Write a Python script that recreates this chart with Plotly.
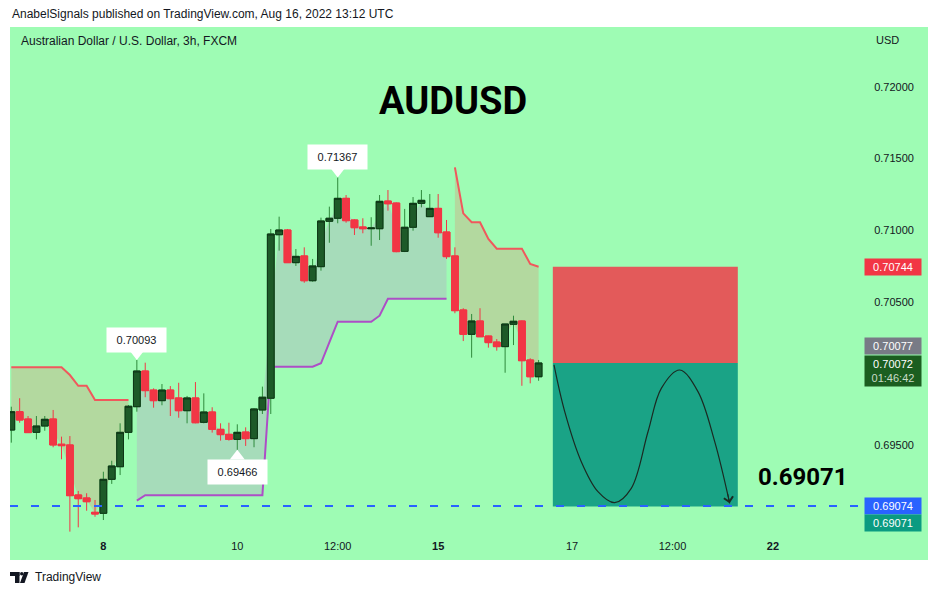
import plotly.graph_objects as go

# ---------------- data ----------------
candle_idx = list(range(64))
opens = [0.69604, 0.69732, 0.69681, 0.69588, 0.69632, 0.69681, 0.69505, 0.69500, 0.69151, 0.69130,
         0.69030, 0.69023, 0.69260, 0.69348, 0.69588, 0.69767, 0.70016, 0.69883, 0.69809, 0.69883,
         0.69828, 0.69739, 0.69828, 0.69658, 0.69730, 0.69609, 0.69574, 0.69539, 0.69590, 0.69544,
         0.69744, 0.69826, 0.70967, 0.71000, 0.70772, 0.70819, 0.70646, 0.70744, 0.71061, 0.71082,
         0.71221, 0.71070, 0.71021, 0.71009, 0.71009, 0.71202, 0.71188, 0.70851, 0.71019, 0.71186,
         0.71093, 0.71151, 0.70986, 0.70819, 0.70442, 0.70272, 0.70365, 0.70260, 0.70218, 0.70186,
         0.70342, 0.70365, 0.70093, 0.69976]
highs = [0.69767, 0.69826, 0.69702, 0.69702, 0.69702, 0.69744, 0.69558, 0.69562, 0.69179, 0.69163,
         0.69116, 0.69313, 0.69390, 0.69651, 0.69779, 0.70093, 0.70074, 0.69895, 0.69925, 0.69911,
         0.69934, 0.69842, 0.69939, 0.69860, 0.69763, 0.69651, 0.69655, 0.69644, 0.69623, 0.69756,
         0.69907, 0.71007, 0.71093, 0.71007, 0.70867, 0.70879, 0.70798, 0.71086, 0.71163, 0.71367,
         0.71244, 0.71075, 0.71082, 0.71089, 0.71244, 0.71279, 0.71192, 0.71147, 0.71230, 0.71279,
         0.71251, 0.71251, 0.71070, 0.70879, 0.70454, 0.70414, 0.70454, 0.70262, 0.70239, 0.70344,
         0.70402, 0.70368, 0.70105, 0.70093]
lows = [0.69516, 0.69655, 0.69586, 0.69539, 0.69599, 0.69484, 0.69400, 0.68895, 0.68925, 0.69041,
        0.68999, 0.68976, 0.69228, 0.69290, 0.69539, 0.69732, 0.69833, 0.69760, 0.69777, 0.69702,
        0.69690, 0.69651, 0.69651, 0.69651, 0.69586, 0.69530, 0.69530, 0.69466, 0.69493, 0.69484,
        0.69716, 0.69716, 0.70856, 0.70772, 0.70749, 0.70632, 0.70639, 0.70716, 0.70911, 0.71047,
        0.71051, 0.70965, 0.70977, 0.70890, 0.70930, 0.71135, 0.70845, 0.70846, 0.70995, 0.71158,
        0.71093, 0.70946, 0.70798, 0.70419, 0.70225, 0.70109, 0.70255, 0.70179, 0.70158, 0.70004,
        0.70197, 0.69913, 0.69930, 0.69948]
closes = [0.69732, 0.69674, 0.69586, 0.69632, 0.69679, 0.69500, 0.69495, 0.69146, 0.69125, 0.69104,
          0.69018, 0.69260, 0.69353, 0.69588, 0.69770, 0.70016, 0.69879, 0.69809, 0.69883, 0.69823,
          0.69739, 0.69828, 0.69655, 0.69730, 0.69609, 0.69572, 0.69539, 0.69588, 0.69544, 0.69751,
          0.69833, 0.70972, 0.71000, 0.70772, 0.70816, 0.70646, 0.70749, 0.71063, 0.71082, 0.71221,
          0.71065, 0.71016, 0.71009, 0.71014, 0.71200, 0.71183, 0.70849, 0.71019, 0.71186, 0.71207,
          0.71151, 0.70981, 0.70814, 0.70437, 0.70272, 0.70365, 0.70255, 0.70214, 0.70186, 0.70344,
          0.70363, 0.70088, 0.69976, 0.70072]

# SuperTrend segments
st_down_1_idx = list(range(0, 15))
st_down_1 = [0.70042] * 7 + [0.69988, 0.69913, 0.69913] + [0.69814] * 5
st_up_idx = list(range(15, 53))
st_up = [0.69111] + [0.69149] * 15 + [0.70046] * 6 + [0.70070, 0.70215] + [0.70360] * 5 + [0.70402] + [0.70520] * 8
st_down_2_idx = list(range(53, 64))
st_down_2 = [0.71437, 0.71116, 0.71054, 0.71054, 0.70937, 0.70870, 0.70870, 0.70870, 0.70870, 0.70763, 0.70744]

# time axis
x_tick_idx = [11, 27, 39, 51, 67, 79, 91]
x_tick_text = ["<b>8</b>", "10", "12:00", "<b>15</b>", "17", "12:00", "<b>22</b>"]
# price axis
y_tick_vals = [0.695, 0.705, 0.710, 0.715, 0.720]
y_tick_text = ["0.69500", "0.70500", "0.71000", "0.71500", "0.72000"]

# short position tool
entry_price = 0.70072
stop_price = 0.70744
target_price = 0.69071
alert_line = 0.69074
prev_close = 0.70077
box_start, box_end = 64.7, 86.8
# hand-drawn projected path
path_idx = [64.84, 66.12, 68.10, 70.09, 72.09, 74.07, 76.07, 77.66, 79.86, 82.04, 84.04, 85.83]
path_price = [0.70058, 0.69732, 0.69383, 0.69174, 0.69097, 0.69197, 0.69592, 0.69895, 0.70023, 0.69872, 0.69523, 0.69093]

# callouts: (candle index, price, above?)
callouts = [(15, 0.70093, True), (39, 0.71367, True), (27, 0.69466, False)]

# ---------------- layout geometry ----------------
W, H = 938, 595
ML, MR, MT, MB = 10, 80, 27, 63
PW, PH = W - ML - MR, H - MT - MB
X_RANGE = [-0.155, 101.16]
Y_RANGE = [0.688925, 0.724166]
PPX = (Y_RANGE[1] - Y_RANGE[0]) / PH  # price per pixel

def px_x(px):
    return (px - ML) / PW

def px_y(py):
    return (H - MB - py) / PH

BG = "#9efcb4"
FONT = "Liberation Sans, Arial, sans-serif"
TXT = "#131722"

fig = go.Figure()

mids = [(o + c) / 2 for o, c in zip(opens, closes)]

shapes = [
    # green chart pane background (including price & time axes)
    dict(type="rect", xref="paper", yref="paper", x0=px_x(10), x1=px_x(928),
         y0=px_y(560), y1=px_y(27), fillcolor=BG, line=dict(width=0), layer="below"),
]

def band_shapes(idx, line_vals, line_color, fill_color):
    top = " L ".join(f"{i},{v}" for i, v in zip(idx, line_vals))
    bottom = " L ".join(f"{i},{mids[i]}" for i in reversed(idx))
    fill_path = f"M {top} L {bottom} Z"
    line_path = f"M {top}"
    return [
        dict(type="path", xref="x", yref="y", path=fill_path, fillcolor=fill_color,
             line=dict(width=0), layer="below"),
        dict(type="path", xref="x", yref="y", path=line_path, fillcolor="rgba(0,0,0,0)",
             line=dict(color=line_color, width=2), layer="below"),
    ]

shapes += band_shapes(st_down_1_idx, st_down_1, "#f0585c", "#b3d99f")
shapes += band_shapes(st_up_idx, st_up, "#ad4ec6", "#a6dcba")
shapes += band_shapes(st_down_2_idx, st_down_2, "#f0585c", "#b3d99f")

shapes += [
    # stop zone
    dict(type="rect", xref="x", yref="y", x0=box_start, x1=box_end, y0=entry_price, y1=stop_price,
         fillcolor="#e35a5a", line=dict(width=0), layer="below"),
    # target zone
    dict(type="rect", xref="x", yref="y", x0=box_start, x1=box_end, y0=target_price, y1=entry_price,
         fillcolor="#1aa386", line=dict(width=0), layer="below"),
    # alert dashed line
    dict(type="line", xref="paper", yref="y", x0=0, x1=1, y0=alert_line, y1=alert_line,
         line=dict(color="#2962ff", width=2, dash="8px,13px"), layer="above"),
]

# candles: wicks
fig.add_trace(go.Candlestick(
    x=candle_idx, open=opens, high=highs, low=lows, close=closes,
    increasing=dict(line=dict(color="#2f8a3c", width=1), fillcolor="#1d5a28"),
    decreasing=dict(line=dict(color="#f23645", width=1), fillcolor="#f23645"),
    hoverinfo="skip", showlegend=False))
# candles: bodies with dark outline
fig.add_trace(go.Candlestick(
    x=candle_idx, open=opens, close=closes,
    high=[max(o, c) for o, c in zip(opens, closes)],
    low=[min(o, c) for o, c in zip(opens, closes)],
    increasing=dict(line=dict(color="#0e3516", width=1), fillcolor="#1d5a28"),
    decreasing=dict(line=dict(color="#f23645", width=1), fillcolor="#f23645"),
    hoverinfo="skip", showlegend=False))

# projected path
fig.add_trace(go.Scatter(x=path_idx, y=path_price, mode="lines",
                         line=dict(color="#1b2a22", width=1.2, shape="spline", smoothing=1.0),
                         hoverinfo="skip", showlegend=False))

# callout pointers
for ci, price, above in callouts:
    fig.add_trace(go.Scatter(
        x=[ci], y=[price + (6.5 * PPX if above else -6.5 * PPX)], mode="markers",
        marker=dict(symbol="triangle-down" if above else "triangle-up", size=13,
                    color="white", line=dict(width=0)),
        hoverinfo="skip", showlegend=False))

# TradingView logo (footer)
shapes += [
    dict(type="rect", xref="paper", yref="paper", x0=px_x(10), x1=px_x(19.5), y0=px_y(576), y1=px_y(572),
         fillcolor="#131722", line=dict(width=0)),
    dict(type="rect", xref="paper", yref="paper", x0=px_x(15), x1=px_x(19.5), y0=px_y(583), y1=px_y(572),
         fillcolor="#131722", line=dict(width=0)),
    dict(type="circle", xref="paper", yref="paper", x0=px_x(20), x1=px_x(23.5), y0=px_y(575.5), y1=px_y(572),
         fillcolor="#131722", line=dict(width=0)),
    dict(type="path", xref="paper", yref="paper",
         path=f"M {px_x(24)} {px_y(572)} L {px_x(28.5)} {px_y(572)} L {px_x(24.5)} {px_y(583)} L {px_x(20)} {px_y(583)} Z",
         fillcolor="#131722", line=dict(width=0)),
]

annotations = []
# header
annotations.append(dict(xref="paper", yref="paper", x=px_x(10), y=px_y(14), xanchor="left", yanchor="middle",
                        text="AnabelSignals published on TradingView.com, Aug 16, 2022 13:12 UTC",
                        showarrow=False, font=dict(family=FONT, size=12, color=TXT)))
annotations.append(dict(xref="paper", yref="paper", x=px_x(19), y=px_y(41), xanchor="left", yanchor="middle",
                        text="Australian Dollar / U.S. Dollar, 3h, FXCM",
                        showarrow=False, font=dict(family=FONT, size=12, color=TXT)))
annotations.append(dict(xref="paper", yref="paper", x=px_x(874), y=px_y(40), xanchor="left", yanchor="middle",
                        text="USD", showarrow=False, font=dict(family=FONT, size=11, color=TXT)))
annotations.append(dict(xref="paper", yref="paper", x=px_x(33), y=px_y(577), xanchor="left", yanchor="middle",
                        text="TradingView", showarrow=False, font=dict(family=FONT, size=12, color=TXT)))
# title
annotations.append(dict(xref="paper", yref="paper", x=px_x(452.5), y=px_y(101), xanchor="center", yanchor="middle",
                        text="<b>AUDUSD</b>", showarrow=False,
                        font=dict(family="Roboto, Liberation Sans, Arial", size=38, color="#000000")))
# target text
annotations.append(dict(xref="paper", yref="paper", x=px_x(803), y=px_y(477), xanchor="center", yanchor="middle",
                        text=f"<b>{target_price:.5f}</b>", showarrow=False,
                        font=dict(family="Roboto, Liberation Sans, Arial", size=24, color="#000000")))
# callout boxes
for ci, price, above in callouts:
    annotations.append(dict(xref="x", yref="y", x=ci, y=price, text=f"{price:.5f}", showarrow=False,
                            yanchor="bottom" if above else "top", yshift=7 if above else -9,
                            bgcolor="white", borderpad=5, width=49, height=14,
                            font=dict(family=FONT, size=11, color=TXT)))
# arrow head of the projected path
annotations.append(dict(xref="x", yref="y", axref="x", ayref="y", x=path_idx[-1], y=path_price[-1],
                        ax=85.55, ay=0.6917, showarrow=True, arrowhead=4, arrowsize=1.8,
                        arrowwidth=1, arrowcolor="#1b2a22", text=""))

# price axis labels
def price_label(price, color, yshift=0, text=None, height=12, yanchor="middle"):
    annotations.append(dict(xref="paper", yref="y", x=px_x(864), y=price, xanchor="left", yanchor=yanchor,
                            yshift=yshift, text=text or f"{price:.5f}", showarrow=False, bgcolor=color,
                            borderpad=2, width=52, height=height, align="center",
                            font=dict(family=FONT, size=11, color="white")))

price_label(stop_price, "#f23645")
price_label(prev_close, "#787b86", yshift=16.5)
price_label(entry_price, "#1b5e20", yshift=7.5, height=26, yanchor="top",
            text=f"{entry_price:.5f}<br><span style='color:#c8dcc8'>01:46:42</span>")
price_label(alert_line, "#2962ff")
price_label(target_price, "#0b9b81", yshift=-16.6)

fig.update_layout(
    width=W, height=H,
    margin=dict(l=ML, r=MR, t=MT, b=MB, pad=0),
    paper_bgcolor="white", plot_bgcolor=BG,
    showlegend=False, hovermode=False,
    boxgap=0.1, boxgroupgap=0.1,
    shapes=shapes, annotations=annotations,
    font=dict(family=FONT, size=11, color=TXT),
    xaxis=dict(range=X_RANGE, showgrid=False, zeroline=False, showline=False,
               tickmode="array", tickvals=x_tick_idx, ticktext=x_tick_text,
               ticks="outside", ticklen=4, tickcolor="rgba(0,0,0,0)",
               tickfont=dict(family=FONT, size=11, color=TXT),
               rangeslider=dict(visible=False), fixedrange=True),
    yaxis=dict(range=Y_RANGE, side="right", showgrid=False, zeroline=False, showline=False,
               tickmode="array", tickvals=y_tick_vals, ticktext=y_tick_text,
               ticks="outside", ticklen=13, tickcolor="rgba(0,0,0,0)",
               tickfont=dict(family=FONT, size=11, color=TXT), fixedrange=True),
)

fig.write_html("out.html", config={"displayModeBar": False},
               post_script="document.body.style.margin='0';document.body.style.overflow='hidden';")
